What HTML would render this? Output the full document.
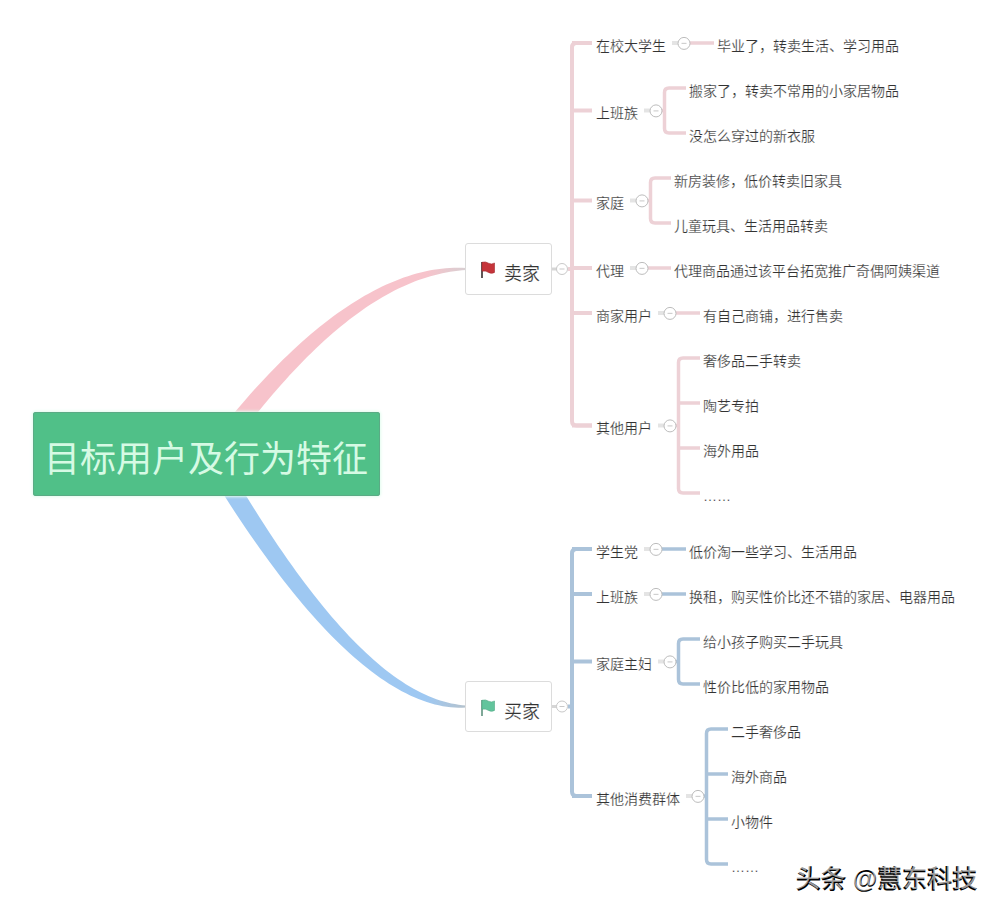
<!DOCTYPE html>
<html lang="zh-CN"><head><meta charset="utf-8"><style>
html,body{margin:0;padding:0;background:#fff;}
body{width:1000px;height:913px;position:relative;overflow:hidden;font-family:"Liberation Sans",sans-serif;}
.t{position:absolute;font-size:14px;line-height:14px;white-space:nowrap;color:#333;-webkit-text-stroke:0.2px #fff;}
svg.bg{position:absolute;left:0;top:0;}
.box{position:absolute;background:#fff;border:1px solid #dcdcdc;border-radius:3px;box-sizing:border-box;}
.root{position:absolute;left:33px;top:412px;width:347px;height:84px;background:#50c088;border-radius:3px;box-shadow:inset 0 0 0 1px #5aab85,0 0 3px 1px #e2fcee;}
.rt{position:absolute;left:44px;top:442px;font-size:36px;line-height:36px;white-space:nowrap;color:#d6fae4;}
.bt{position:absolute;font-size:18px;line-height:18px;white-space:nowrap;color:#333;-webkit-text-stroke:0.2px #fff;}
.wm{position:absolute;font-size:25px;line-height:28px;white-space:nowrap;}
</style></head><body>
<svg class="bg" width="1000" height="913" viewBox="0 0 1000 913">
<linearGradient id="g64" gradientUnits="userSpaceOnUse" x1="400" y1="0" x2="466" y2="0"><stop offset="0" stop-color="#9ec8f2"/><stop offset="0.4" stop-color="#9ec8f2"/><stop offset="1" stop-color="#b5c2cc"/></linearGradient><path d="M194.12,446.27 L199.31,455.02 L204.48,463.63 L209.62,472.08 L214.74,480.39 L219.84,488.55 L224.92,496.57 L229.97,504.43 L235.01,512.15 L240.02,519.72 L245.01,527.15 L249.98,534.42 L254.92,541.55 L259.85,548.53 L264.75,555.36 L269.63,562.04 L274.49,568.58 L279.33,574.97 L284.14,581.21 L288.94,587.30 L293.71,593.24 L298.46,599.04 L303.19,604.69 L307.90,610.19 L312.59,615.54 L317.25,620.74 L321.89,625.79 L326.52,630.70 L331.12,635.45 L335.69,640.06 L340.25,644.52 L344.79,648.82 L349.30,652.98 L353.79,656.99 L358.26,660.85 L362.71,664.56 L367.14,668.12 L371.55,671.53 L375.93,674.79 L380.29,677.90 L384.63,680.85 L388.95,683.66 L393.24,686.31 L397.51,688.81 L401.76,691.16 L405.98,693.35 L410.18,695.39 L414.35,697.28 L418.50,699.01 L422.63,700.59 L426.72,702.01 L430.79,703.27 L434.83,704.38 L438.85,705.34 L442.83,706.13 L446.78,706.77 L450.69,707.24 L454.58,707.55 L458.42,707.70 L462.23,707.67 L466.00,707.40 L466.00,705.60 L462.33,705.18 L458.66,704.71 L454.98,704.12 L451.29,703.40 L447.59,702.55 L443.88,701.57 L440.15,700.44 L436.41,699.19 L432.65,697.79 L428.88,696.26 L425.08,694.59 L421.27,692.77 L417.44,690.82 L413.59,688.73 L409.72,686.50 L405.83,684.13 L401.91,681.61 L397.98,678.96 L394.02,676.16 L390.04,673.22 L386.03,670.13 L382.01,666.90 L377.96,663.53 L373.88,660.01 L369.79,656.35 L365.67,652.55 L361.52,648.60 L357.35,644.51 L353.16,640.27 L348.95,635.88 L344.71,631.35 L340.45,626.68 L336.16,621.86 L331.85,616.89 L327.52,611.78 L323.16,606.52 L318.78,601.12 L314.37,595.56 L309.94,589.87 L305.49,584.02 L301.01,578.03 L296.51,571.90 L291.99,565.61 L287.44,559.18 L282.87,552.61 L278.27,545.88 L273.66,539.01 L269.01,532.00 L264.35,524.83 L259.66,517.52 L254.95,510.06 L250.21,502.46 L245.45,494.71 L240.67,486.81 L235.86,478.76 L231.03,470.57 L226.18,462.23 L221.30,453.74 L216.40,445.11 L211.48,436.33Z" fill="url(#g64)"/><linearGradient id="g63" gradientUnits="userSpaceOnUse" x1="400" y1="0" x2="466" y2="0"><stop offset="0" stop-color="#f7c3cb"/><stop offset="0.4" stop-color="#f7c3cb"/><stop offset="1" stop-color="#d8cfd2"/></linearGradient><path d="M214.12,470.84 L218.67,464.34 L223.22,457.96 L227.75,451.68 L232.26,445.51 L236.77,439.44 L241.26,433.49 L245.74,427.64 L250.21,421.90 L254.66,416.27 L259.10,410.75 L263.52,405.34 L267.94,400.03 L272.34,394.83 L276.73,389.74 L281.10,384.76 L285.46,379.88 L289.81,375.12 L294.15,370.46 L298.47,365.90 L302.78,361.46 L307.08,357.12 L311.37,352.89 L315.64,348.77 L319.90,344.75 L324.14,340.84 L328.38,337.04 L332.60,333.34 L336.81,329.75 L341.00,326.27 L345.19,322.89 L349.36,319.62 L353.52,316.46 L357.67,313.40 L361.80,310.44 L365.92,307.60 L370.04,304.85 L374.14,302.22 L378.23,299.68 L382.30,297.26 L386.37,294.93 L390.43,292.72 L394.47,290.60 L398.51,288.59 L402.54,286.68 L406.55,284.88 L410.56,283.18 L414.56,281.58 L418.55,280.09 L422.54,278.70 L426.51,277.41 L430.48,276.22 L434.44,275.14 L438.40,274.16 L442.35,273.27 L446.30,272.49 L450.25,271.80 L454.19,271.21 L458.12,270.71 L462.06,270.30 L466.00,269.90 L466.00,268.10 L461.99,267.81 L457.96,267.72 L453.90,267.77 L449.83,267.94 L445.73,268.23 L441.61,268.65 L437.47,269.18 L433.31,269.83 L429.13,270.60 L424.93,271.48 L420.72,272.48 L416.49,273.59 L412.24,274.82 L407.98,276.16 L403.70,277.62 L399.40,279.19 L395.09,280.88 L390.77,282.68 L386.43,284.59 L382.07,286.62 L377.71,288.76 L373.32,291.02 L368.93,293.39 L364.52,295.87 L360.10,298.46 L355.67,301.16 L351.22,303.98 L346.77,306.91 L342.29,309.95 L337.81,313.11 L333.32,316.37 L328.81,319.75 L324.29,323.24 L319.76,326.84 L315.22,330.55 L310.66,334.37 L306.10,338.30 L301.52,342.34 L296.93,346.50 L292.33,350.76 L287.71,355.14 L283.09,359.62 L278.45,364.22 L273.81,368.92 L269.15,373.74 L264.48,378.67 L259.80,383.70 L255.10,388.85 L250.40,394.10 L245.68,399.47 L240.95,404.95 L236.21,410.53 L231.46,416.23 L226.70,422.03 L221.93,427.95 L217.14,433.97 L212.34,440.10 L207.53,446.35 L202.71,452.70 L197.88,459.16Z" fill="url(#g63)"/><path d="M592,43 L576.5,43 Q572,43 572,47.5 L572,421.0 Q572,425.5 576.5,425.5 L592,425.5" fill="none" stroke="#edd1d6" stroke-width="4"/><line x1="568" y1="269" x2="572" y2="269" stroke="#edd1d6" stroke-width="4"/><line x1="572" y1="43" x2="592" y2="43" stroke="#edd1d6" stroke-width="4"/><line x1="672" y1="43" x2="679" y2="43" stroke="#e4e4e4" stroke-width="4"/><line x1="689.5" y1="43" x2="714" y2="43" stroke="#edd1d6" stroke-width="3.5"/><circle cx="684" cy="43.4" r="6" fill="#fff" stroke="#bdbdbd" stroke-width="1"/><line x1="681.5" y1="43.4" x2="686.5" y2="43.4" stroke="#d0d0d0" stroke-width="1.2"/><line x1="572" y1="110.5" x2="592" y2="110.5" stroke="#edd1d6" stroke-width="4"/><line x1="644" y1="110.5" x2="651" y2="110.5" stroke="#e4e4e4" stroke-width="4"/><line x1="661.5" y1="110.5" x2="664.5" y2="110.5" stroke="#edd1d6" stroke-width="3.5"/><path d="M686,88 L669.0,88 Q664.5,88 664.5,92.5 L664.5,128.5 Q664.5,133 669.0,133 L686,133" fill="none" stroke="#edd1d6" stroke-width="3.5"/><circle cx="656" cy="110.9" r="6" fill="#fff" stroke="#bdbdbd" stroke-width="1"/><line x1="653.5" y1="110.9" x2="658.5" y2="110.9" stroke="#d0d0d0" stroke-width="1.2"/><line x1="572" y1="200.5" x2="592" y2="200.5" stroke="#edd1d6" stroke-width="4"/><line x1="630" y1="200.5" x2="637" y2="200.5" stroke="#e4e4e4" stroke-width="4"/><line x1="647.5" y1="200.5" x2="650.5" y2="200.5" stroke="#edd1d6" stroke-width="3.5"/><path d="M671,178 L655.0,178 Q650.5,178 650.5,182.5 L650.5,218.5 Q650.5,223 655.0,223 L671,223" fill="none" stroke="#edd1d6" stroke-width="3.5"/><circle cx="642" cy="200.9" r="6" fill="#fff" stroke="#bdbdbd" stroke-width="1"/><line x1="639.5" y1="200.9" x2="644.5" y2="200.9" stroke="#d0d0d0" stroke-width="1.2"/><line x1="572" y1="268" x2="592" y2="268" stroke="#edd1d6" stroke-width="4"/><line x1="630" y1="268" x2="637" y2="268" stroke="#e4e4e4" stroke-width="4"/><line x1="647.5" y1="268" x2="671" y2="268" stroke="#edd1d6" stroke-width="3.5"/><circle cx="642" cy="268.4" r="6" fill="#fff" stroke="#bdbdbd" stroke-width="1"/><line x1="639.5" y1="268.4" x2="644.5" y2="268.4" stroke="#d0d0d0" stroke-width="1.2"/><line x1="572" y1="313" x2="592" y2="313" stroke="#edd1d6" stroke-width="4"/><line x1="658" y1="313" x2="665" y2="313" stroke="#e4e4e4" stroke-width="4"/><line x1="675.5" y1="313" x2="700" y2="313" stroke="#edd1d6" stroke-width="3.5"/><circle cx="670" cy="313.4" r="6" fill="#fff" stroke="#bdbdbd" stroke-width="1"/><line x1="667.5" y1="313.4" x2="672.5" y2="313.4" stroke="#d0d0d0" stroke-width="1.2"/><line x1="572" y1="425.5" x2="592" y2="425.5" stroke="#edd1d6" stroke-width="4"/><line x1="658" y1="425.5" x2="665" y2="425.5" stroke="#e4e4e4" stroke-width="4"/><line x1="675.5" y1="425.5" x2="678.5" y2="425.5" stroke="#edd1d6" stroke-width="3.5"/><path d="M700,358 L683.0,358 Q678.5,358 678.5,362.5 L678.5,488.5 Q678.5,493 683.0,493 L700,493" fill="none" stroke="#edd1d6" stroke-width="3.5"/><line x1="678.5" y1="403" x2="700" y2="403" stroke="#edd1d6" stroke-width="3.5"/><line x1="678.5" y1="448" x2="700" y2="448" stroke="#edd1d6" stroke-width="3.5"/><circle cx="670" cy="425.9" r="6" fill="#fff" stroke="#bdbdbd" stroke-width="1"/><line x1="667.5" y1="425.9" x2="672.5" y2="425.9" stroke="#d0d0d0" stroke-width="1.2"/><path d="M592,549 L576.5,549 Q572,549 572,553.5 L572,791.5 Q572,796 576.5,796 L592,796" fill="none" stroke="#abc3da" stroke-width="4"/><line x1="568" y1="706.5" x2="572" y2="706.5" stroke="#abc3da" stroke-width="4"/><line x1="572" y1="549" x2="592" y2="549" stroke="#abc3da" stroke-width="4"/><line x1="644" y1="549" x2="651" y2="549" stroke="#e4e4e4" stroke-width="4"/><line x1="661.5" y1="549" x2="686" y2="549" stroke="#abc3da" stroke-width="3.5"/><circle cx="656" cy="549.4" r="6" fill="#fff" stroke="#bdbdbd" stroke-width="1"/><line x1="653.5" y1="549.4" x2="658.5" y2="549.4" stroke="#d0d0d0" stroke-width="1.2"/><line x1="572" y1="594" x2="592" y2="594" stroke="#abc3da" stroke-width="4"/><line x1="644" y1="594" x2="651" y2="594" stroke="#e4e4e4" stroke-width="4"/><line x1="661.5" y1="594" x2="686" y2="594" stroke="#abc3da" stroke-width="3.5"/><circle cx="656" cy="594.4" r="6" fill="#fff" stroke="#bdbdbd" stroke-width="1"/><line x1="653.5" y1="594.4" x2="658.5" y2="594.4" stroke="#d0d0d0" stroke-width="1.2"/><line x1="572" y1="661.5" x2="592" y2="661.5" stroke="#abc3da" stroke-width="4"/><line x1="658" y1="661.5" x2="665" y2="661.5" stroke="#e4e4e4" stroke-width="4"/><line x1="675.5" y1="661.5" x2="678.5" y2="661.5" stroke="#abc3da" stroke-width="3.5"/><path d="M700,639 L683.0,639 Q678.5,639 678.5,643.5 L678.5,679.5 Q678.5,684 683.0,684 L700,684" fill="none" stroke="#abc3da" stroke-width="3.5"/><circle cx="670" cy="661.9" r="6" fill="#fff" stroke="#bdbdbd" stroke-width="1"/><line x1="667.5" y1="661.9" x2="672.5" y2="661.9" stroke="#d0d0d0" stroke-width="1.2"/><line x1="572" y1="796" x2="592" y2="796" stroke="#abc3da" stroke-width="4"/><line x1="686" y1="796" x2="693" y2="796" stroke="#e4e4e4" stroke-width="4"/><line x1="703.5" y1="796" x2="706.5" y2="796" stroke="#abc3da" stroke-width="3.5"/><path d="M728,729 L711.0,729 Q706.5,729 706.5,733.5 L706.5,859.5 Q706.5,864 711.0,864 L728,864" fill="none" stroke="#abc3da" stroke-width="3.5"/><line x1="706.5" y1="774" x2="728" y2="774" stroke="#abc3da" stroke-width="3.5"/><line x1="706.5" y1="819" x2="728" y2="819" stroke="#abc3da" stroke-width="3.5"/><circle cx="698" cy="796.4" r="6" fill="#fff" stroke="#bdbdbd" stroke-width="1"/><line x1="695.5" y1="796.4" x2="700.5" y2="796.4" stroke="#d0d0d0" stroke-width="1.2"/>
</svg>
<div class="root"></div>
<div class="rt">目标用户及行为特征</div>
<div class="box" style="left:465px;top:243px;width:87px;height:52px;"></div>
<div class="bt" style="left:504px;top:265px;">卖家</div>
<svg width="1000" height="913" class="bg"><rect x="481" y="262" width="2" height="16" fill="#5e5656"/><path d="M482,262.3 Q485.5,261.2 488.5,263.2 Q491.5,264.8 494.5,263 L494.5,272.4 Q491.5,274.2 488.5,272.4 Q485.5,270.4 482,271.2 Z" fill="#c5343a" stroke="#a5282e" stroke-width="0.6"/></svg>
<div class="box" style="left:465px;top:681px;width:87px;height:51px;"></div>
<div class="bt" style="left:504px;top:703px;">买家</div>
<svg width="1000" height="913" class="bg"><rect x="481" y="700" width="2" height="16" fill="#7fa898"/><path d="M482,700.3 Q485.5,699.2 488.5,701.2 Q491.5,702.8 494.5,701 L494.5,710.4 Q491.5,712.2 488.5,710.4 Q485.5,708.4 482,709.2 Z" fill="#62c49c" stroke="#4fa784" stroke-width="0.6"/></svg>
<svg class="bg" width="1000" height="913" viewBox="0 0 1000 913">
<line x1="552" y1="269" x2="557" y2="269" stroke="#d6d6d6" stroke-width="3"/>
<circle cx="562" cy="269" r="5.5" fill="#fff" stroke="#c9c9c9"/><line x1="559.5" y1="269" x2="564.5" y2="269" stroke="#c9c9c9"/>
<line x1="552" y1="706.5" x2="557" y2="706.5" stroke="#d6d6d6" stroke-width="3"/>
<circle cx="562" cy="706.5" r="5.5" fill="#fff" stroke="#c9c9c9"/><line x1="559.5" y1="706.5" x2="564.5" y2="706.5" stroke="#c9c9c9"/>
</svg>
<div class="t" style="left:596px;top:38.5px;">在校大学生</div><div class="t" style="left:717px;top:38.5px;">毕业了，转卖生活、学习用品</div><div class="t" style="left:596px;top:106.0px;">上班族</div><div class="t" style="left:689px;top:83.5px;">搬家了，转卖不常用的小家居物品</div><div class="t" style="left:689px;top:128.5px;">没怎么穿过的新衣服</div><div class="t" style="left:596px;top:196.0px;">家庭</div><div class="t" style="left:674px;top:173.5px;">新房装修，低价转卖旧家具</div><div class="t" style="left:674px;top:218.5px;">儿童玩具、生活用品转卖</div><div class="t" style="left:596px;top:263.5px;">代理</div><div class="t" style="left:674px;top:263.5px;">代理商品通过该平台拓宽推广奇偶阿姨渠道</div><div class="t" style="left:596px;top:308.5px;">商家用户</div><div class="t" style="left:703px;top:308.5px;">有自己商铺，进行售卖</div><div class="t" style="left:596px;top:421.0px;">其他用户</div><div class="t" style="left:703px;top:353.5px;">奢侈品二手转卖</div><div class="t" style="left:703px;top:398.5px;">陶艺专拍</div><div class="t" style="left:703px;top:443.5px;">海外用品</div><div class="t" style="left:703px;top:488.5px;">……</div><div class="t" style="left:596px;top:544.5px;">学生党</div><div class="t" style="left:689px;top:544.5px;">低价淘一些学习、生活用品</div><div class="t" style="left:596px;top:589.5px;">上班族</div><div class="t" style="left:689px;top:589.5px;">换租，购买性价比还不错的家居、电器用品</div><div class="t" style="left:596px;top:657.0px;">家庭主妇</div><div class="t" style="left:703px;top:634.5px;">给小孩子购买二手玩具</div><div class="t" style="left:703px;top:679.5px;">性价比低的家用物品</div><div class="t" style="left:596px;top:791.5px;">其他消费群体</div><div class="t" style="left:731px;top:724.5px;">二手奢侈品</div><div class="t" style="left:731px;top:769.5px;">海外商品</div><div class="t" style="left:731px;top:814.5px;">小物件</div><div class="t" style="left:731px;top:859.5px;">……</div>
<div class="wm" style="left:796px;top:865px;color:#000;font-weight:bold;">头条 @慧东科技</div><div class="wm" style="left:795.3px;top:864.2px;color:rgba(255,255,255,0.6);">头条 @慧东科技</div>
</body></html>
